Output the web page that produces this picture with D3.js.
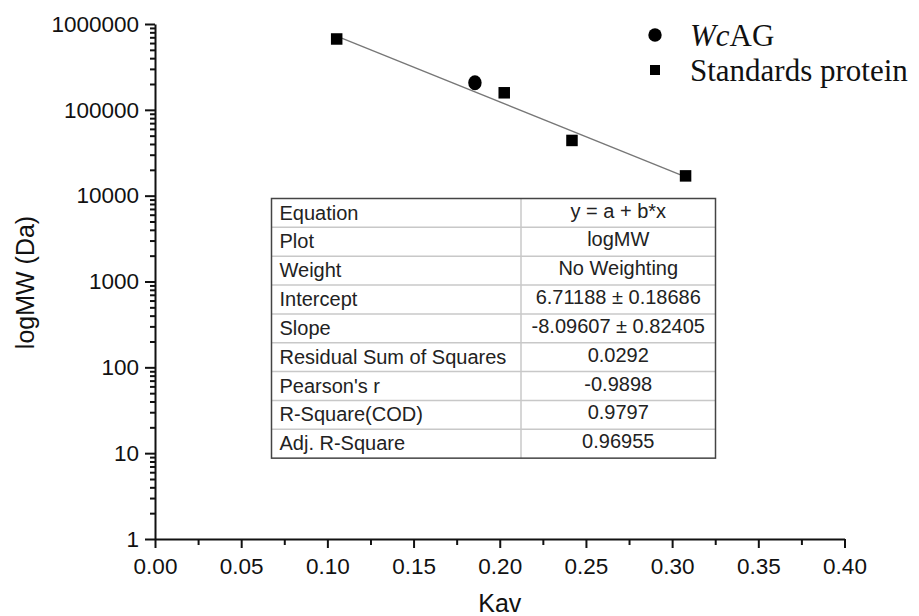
<!DOCTYPE html>
<html><head>
<meta charset="utf-8">
<title>Kav vs logMW</title>
<script src="https://d3js.org/d3.v7.min.js"></script>
<style>
  body { margin: 0; background: #fff; }
  svg text { font-family: "Liberation Sans", Arial, sans-serif; fill: #111; }
  .axis path, .axis line { stroke: #111; stroke-width: 2; }
  .axis text { font-size: 22.5px; }
  .legend text { font-family: "Liberation Serif", "Times New Roman", serif; font-size: 31px; }
  .fittable text { font-size: 20px; fill: #222; }
</style>
</head>
<body>
<svg id="chart" width="919" height="616"></svg>
<script>

// standards protein (Kav, MW in Da)
const standardKav = [0.1054, 0.2026, 0.2419, 0.3078];
const standardMW  = [669000, 158000, 44000, 17000];

// sample
const sampleKav = [0.1856];
const sampleMW  = [207000];

// linear fit of log10(MW) = a + b*Kav
const fitA = 6.71188;
const fitB = -8.09607;

const xTicks = [0, 0.05, 0.10, 0.15, 0.20, 0.25, 0.30, 0.35, 0.40];
const yTicks = [1, 10, 100, 1000, 10000, 100000, 1000000];

const tableLabels = ["Equation", "Plot", "Weight", "Intercept", "Slope",
  "Residual Sum of Squares", "Pearson's r", "R-Square(COD)", "Adj. R-Square"];
const tableValues = ["y = a + b*x", "logMW", "No Weighting", "6.71188 \u00b1 0.18686",
  "-8.09607 \u00b1 0.82405", "0.0292", "-0.9898", "0.9797", "0.96955"];

const svg = d3.select("#chart");
const margin = {left: 155, top: 24, right: 74.5, bottom: 77};
const plotW = 919 - margin.left - margin.right;
const plotH = 616 - margin.top - margin.bottom;

const x = d3.scaleLinear().domain([0, 0.40]).range([0, plotW]);
const y = d3.scaleLog().domain([1, 1000000]).range([plotH, 0]);

const g = svg.append("g").attr("transform", "translate(" + margin.left + "," + margin.top + ")");

// minor ticks first so the major ones sit on top
let yMinor = [];
yTicks.slice(0, -1).forEach(d => { for (let k = 2; k < 10; k++) yMinor.push(d * k); });
g.append("g").attr("class", "axis")
  .call(d3.axisLeft(y).tickValues(yMinor).tickSize(5).tickFormat(""))
  .select(".domain").remove();

let xMinor = xTicks.slice(0, -1).map(d => d + 0.025);
g.append("g").attr("class", "axis")
  .attr("transform", "translate(0," + plotH + ")")
  .call(d3.axisBottom(x).tickValues(xMinor).tickSize(6).tickFormat(""))
  .select(".domain").remove();

g.append("g").attr("class", "axis")
  .call(d3.axisLeft(y).tickValues(yTicks).tickSize(10).tickSizeOuter(0).tickPadding(6).tickFormat(d3.format("d")));

g.append("g").attr("class", "axis")
  .attr("transform", "translate(0," + plotH + ")")
  .call(d3.axisBottom(x).tickValues(xTicks).tickSize(9).tickSizeOuter(0).tickPadding(10).tickFormat(d3.format(".2f")));

// axis titles
svg.append("text")
  .attr("x", margin.left + plotW / 2).attr("y", 612)
  .attr("text-anchor", "middle").style("font-size", "25px")
  .text("Kav");
svg.append("text")
  .attr("transform", "translate(34," + (margin.top + plotH / 2 + 1) + ") rotate(-90)")
  .attr("text-anchor", "middle").style("font-size", "25px")
  .text("logMW (Da)");

// fitted line across the standards
const kavExtent = d3.extent(standardKav);
const fitLine = d3.line().x(d => x(d)).y(d => y(Math.pow(10, fitA + fitB * d)));
g.append("path")
  .datum(kavExtent)
  .attr("d", fitLine)
  .attr("fill", "none").attr("stroke", "#777").attr("stroke-width", 1.3);

// standards: squares
const sq = 11.5;
g.selectAll("rect.std")
  .data(d3.zip(standardKav, standardMW))
  .join("rect")
  .attr("class", "std")
  .attr("x", d => x(d[0]) - sq / 2)
  .attr("y", d => y(d[1]) - sq / 2)
  .attr("width", sq).attr("height", sq)
  .attr("fill", "#000");

// sample: circle
g.selectAll("ellipse.sample")
  .data(d3.zip(sampleKav, sampleMW))
  .join("ellipse")
  .attr("class", "sample")
  .attr("cx", d => x(d[0]))
  .attr("cy", d => y(d[1]))
  .attr("rx", 6.7).attr("ry", 7.5)
  .attr("fill", "#000");

// fit results table
const table = svg.append("g").attr("class", "fittable");
const tX = 271.5, tY = 198.5, tW = 444, colX = 521, rowH = 28.85;
const tH = rowH * tableLabels.length;

tableLabels.forEach((lab, i) => {
  if (i > 0) {
    table.append("line")
      .attr("x1", tX).attr("x2", tX + tW)
      .attr("y1", tY + i * rowH).attr("y2", tY + i * rowH)
      .attr("stroke", "#c8c8c8").attr("stroke-width", 1.5);
  }
  table.append("text")
    .attr("x", tX + 8).attr("y", tY + i * rowH + 21)
    .text(lab);
  table.append("text")
    .attr("x", (colX + tX + tW) / 2).attr("y", tY + i * rowH + 19)
    .attr("text-anchor", "middle")
    .text(tableValues[i]);
});
table.append("line")
  .attr("x1", colX).attr("x2", colX)
  .attr("y1", tY).attr("y2", tY + tH)
  .attr("stroke", "#c8c8c8").attr("stroke-width", 1.5);
table.append("rect")
  .attr("x", tX).attr("y", tY).attr("width", tW).attr("height", tH)
  .attr("fill", "none").attr("stroke", "#444").attr("stroke-width", 1.5);

// legend
const legend = svg.append("g").attr("class", "legend");
legend.append("circle").attr("cx", 655).attr("cy", 35).attr("r", 6.7).attr("fill", "#000");
let t1 = legend.append("text").attr("x", 690).attr("y", 46);
t1.append("tspan").style("font-style", "italic").text("Wc");
t1.append("tspan").text("AG");
legend.append("rect").attr("x", 650).attr("y", 65).attr("width", 10).attr("height", 10).attr("fill", "#000");
legend.append("text").attr("x", 690).attr("y", 81).text("Standards protein");

</script>
</body>
</html>
